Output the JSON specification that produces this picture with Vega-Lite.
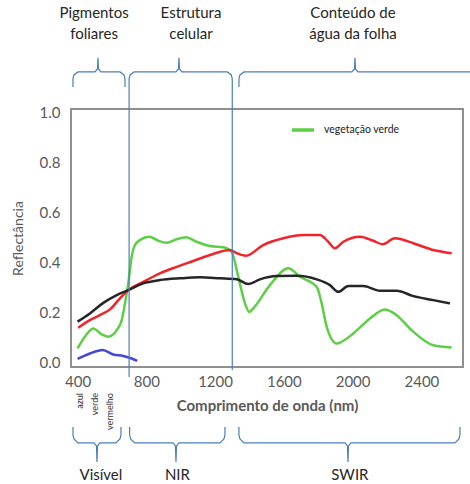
{
  "$schema": "https://vega.github.io/schema/vega-lite/v6.json",
  "width": 392,
  "height": 258,
  "autosize": {"type": "none"},
  "padding": {"left": 71, "top": 109, "right": 7, "bottom": 117},
  "background": "white",
  "config": {"view": {"stroke": "#8f8f8f", "strokeWidth": 2}, "font": "Lato"},
  "datasets": {
    "spectra": [
      {"serie": "vegetação verde", "nm": 400, "v": 0.056},
      {"serie": "vegetação verde", "nm": 450, "v": 0.11},
      {"serie": "vegetação verde", "nm": 492, "v": 0.136},
      {"serie": "vegetação verde", "nm": 540, "v": 0.112},
      {"serie": "vegetação verde", "nm": 579, "v": 0.103},
      {"serie": "vegetação verde", "nm": 628, "v": 0.129},
      {"serie": "vegetação verde", "nm": 657, "v": 0.169},
      {"serie": "vegetação verde", "nm": 676, "v": 0.236},
      {"serie": "vegetação verde", "nm": 695, "v": 0.316},
      {"serie": "vegetação verde", "nm": 715, "v": 0.422},
      {"serie": "vegetação verde", "nm": 734, "v": 0.469},
      {"serie": "vegetação verde", "nm": 763, "v": 0.489},
      {"serie": "vegetação verde", "nm": 817, "v": 0.502},
      {"serie": "vegetação verde", "nm": 870, "v": 0.486},
      {"serie": "vegetação verde", "nm": 918, "v": 0.478},
      {"serie": "vegetação verde", "nm": 977, "v": 0.492},
      {"serie": "vegetação verde", "nm": 1031, "v": 0.5},
      {"serie": "vegetação verde", "nm": 1093, "v": 0.482},
      {"serie": "vegetação verde", "nm": 1170, "v": 0.465},
      {"serie": "vegetação verde", "nm": 1248, "v": 0.46},
      {"serie": "vegetação verde", "nm": 1296, "v": 0.442},
      {"serie": "vegetação verde", "nm": 1335, "v": 0.342},
      {"serie": "vegetação verde", "nm": 1374, "v": 0.236},
      {"serie": "vegetação verde", "nm": 1399, "v": 0.202},
      {"serie": "vegetação verde", "nm": 1422, "v": 0.216},
      {"serie": "vegetação verde", "nm": 1519, "v": 0.309},
      {"serie": "vegetação verde", "nm": 1626, "v": 0.376},
      {"serie": "vegetação verde", "nm": 1694, "v": 0.342},
      {"serie": "vegetação verde", "nm": 1791, "v": 0.302},
      {"serie": "vegetação verde", "nm": 1820, "v": 0.236},
      {"serie": "vegetação verde", "nm": 1849, "v": 0.143},
      {"serie": "vegetação verde", "nm": 1907, "v": 0.076},
      {"serie": "vegetação verde", "nm": 2004, "v": 0.116},
      {"serie": "vegetação verde", "nm": 2101, "v": 0.176},
      {"serie": "vegetação verde", "nm": 2188, "v": 0.212},
      {"serie": "vegetação verde", "nm": 2256, "v": 0.189},
      {"serie": "vegetação verde", "nm": 2343, "v": 0.129},
      {"serie": "vegetação verde", "nm": 2469, "v": 0.069},
      {"serie": "vegetação verde", "nm": 2576, "v": 0.06},
      {"serie": "solo", "nm": 404, "v": 0.139},
      {"serie": "solo", "nm": 472, "v": 0.169},
      {"serie": "solo", "nm": 530, "v": 0.189},
      {"serie": "solo", "nm": 589, "v": 0.212},
      {"serie": "solo", "nm": 647, "v": 0.256},
      {"serie": "solo", "nm": 695, "v": 0.289},
      {"serie": "solo", "nm": 782, "v": 0.322},
      {"serie": "solo", "nm": 879, "v": 0.356},
      {"serie": "solo", "nm": 977, "v": 0.382},
      {"serie": "solo", "nm": 1073, "v": 0.405},
      {"serie": "solo", "nm": 1170, "v": 0.429},
      {"serie": "solo", "nm": 1287, "v": 0.449},
      {"serie": "solo", "nm": 1326, "v": 0.436},
      {"serie": "solo", "nm": 1380, "v": 0.426},
      {"serie": "solo", "nm": 1480, "v": 0.469},
      {"serie": "solo", "nm": 1597, "v": 0.496},
      {"serie": "solo", "nm": 1713, "v": 0.509},
      {"serie": "solo", "nm": 1810, "v": 0.509},
      {"serie": "solo", "nm": 1858, "v": 0.482},
      {"serie": "solo", "nm": 1897, "v": 0.456},
      {"serie": "solo", "nm": 1946, "v": 0.482},
      {"serie": "solo", "nm": 2043, "v": 0.502},
      {"serie": "solo", "nm": 2120, "v": 0.486},
      {"serie": "solo", "nm": 2175, "v": 0.472},
      {"serie": "solo", "nm": 2246, "v": 0.496},
      {"serie": "solo", "nm": 2353, "v": 0.476},
      {"serie": "solo", "nm": 2469, "v": 0.449},
      {"serie": "solo", "nm": 2576, "v": 0.436},
      {"serie": "vegetação seca", "nm": 400, "v": 0.163},
      {"serie": "vegetação seca", "nm": 472, "v": 0.196},
      {"serie": "vegetação seca", "nm": 550, "v": 0.238},
      {"serie": "vegetação seca", "nm": 628, "v": 0.269},
      {"serie": "vegetação seca", "nm": 695, "v": 0.289},
      {"serie": "vegetação seca", "nm": 782, "v": 0.316},
      {"serie": "vegetação seca", "nm": 879, "v": 0.329},
      {"serie": "vegetação seca", "nm": 996, "v": 0.336},
      {"serie": "vegetação seca", "nm": 1112, "v": 0.34},
      {"serie": "vegetação seca", "nm": 1228, "v": 0.336},
      {"serie": "vegetação seca", "nm": 1326, "v": 0.332},
      {"serie": "vegetação seca", "nm": 1393, "v": 0.313},
      {"serie": "vegetação seca", "nm": 1461, "v": 0.332},
      {"serie": "vegetação seca", "nm": 1558, "v": 0.345},
      {"serie": "vegetação seca", "nm": 1675, "v": 0.346},
      {"serie": "vegetação seca", "nm": 1791, "v": 0.332},
      {"serie": "vegetação seca", "nm": 1868, "v": 0.309},
      {"serie": "vegetação seca", "nm": 1916, "v": 0.282},
      {"serie": "vegetação seca", "nm": 1975, "v": 0.305},
      {"serie": "vegetação seca", "nm": 2062, "v": 0.305},
      {"serie": "vegetação seca", "nm": 2159, "v": 0.286},
      {"serie": "vegetação seca", "nm": 2256, "v": 0.286},
      {"serie": "vegetação seca", "nm": 2353, "v": 0.265},
      {"serie": "vegetação seca", "nm": 2469, "v": 0.249},
      {"serie": "vegetação seca", "nm": 2566, "v": 0.236},
      {"serie": "água", "nm": 400, "v": 0.014},
      {"serie": "água", "nm": 472, "v": 0.036},
      {"serie": "água", "nm": 546, "v": 0.05},
      {"serie": "água", "nm": 608, "v": 0.032},
      {"serie": "água", "nm": 666, "v": 0.026},
      {"serie": "água", "nm": 715, "v": 0.016},
      {"serie": "água", "nm": 747, "v": 0.006}
    ],
    "vlines": [
      {"nm": 700, "v": 1.1, "v2": -0.058},
      {"nm": 1300, "v": 1.1, "v2": -0.03}
    ],
    "braces": [
      {"brace": "t1", "i": 1, "nm": 373.5, "v": 1.1},
      {"brace": "t1", "i": 2, "nm": 373.5, "v": 1.132},
      {"brace": "t1", "i": 3, "nm": 379.3, "v": 1.148},
      {"brace": "t1", "i": 4, "nm": 402.6, "v": 1.16},
      {"brace": "t1", "i": 5, "nm": 501.4, "v": 1.16},
      {"brace": "t1", "i": 6, "nm": 516.0, "v": 1.172},
      {"brace": "t1", "i": 7, "nm": 518.9, "v": 1.216},
      {"brace": "t1", "i": 8, "nm": 521.8, "v": 1.172},
      {"brace": "t1", "i": 9, "nm": 536.3, "v": 1.16},
      {"brace": "t1", "i": 10, "nm": 646.8, "v": 1.16},
      {"brace": "t1", "i": 11, "nm": 670.1, "v": 1.148},
      {"brace": "t1", "i": 12, "nm": 675.9, "v": 1.132},
      {"brace": "t1", "i": 13, "nm": 675.9, "v": 1.1},
      {"brace": "t2", "i": 1, "nm": 700, "v": 1.1},
      {"brace": "t2", "i": 2, "nm": 700, "v": 1.132},
      {"brace": "t2", "i": 3, "nm": 705.8, "v": 1.148},
      {"brace": "t2", "i": 4, "nm": 729.1, "v": 1.16},
      {"brace": "t2", "i": 5, "nm": 972.5, "v": 1.16},
      {"brace": "t2", "i": 6, "nm": 987.0, "v": 1.172},
      {"brace": "t2", "i": 7, "nm": 990.0, "v": 1.216},
      {"brace": "t2", "i": 8, "nm": 992.9, "v": 1.172},
      {"brace": "t2", "i": 9, "nm": 1007.4, "v": 1.16},
      {"brace": "t2", "i": 10, "nm": 1270.9, "v": 1.16},
      {"brace": "t2", "i": 11, "nm": 1294.2, "v": 1.148},
      {"brace": "t2", "i": 12, "nm": 1300, "v": 1.132},
      {"brace": "t2", "i": 13, "nm": 1300, "v": 1.1},
      {"brace": "t3", "i": 1, "nm": 1338.9, "v": 1.1},
      {"brace": "t3", "i": 2, "nm": 1338.9, "v": 1.132},
      {"brace": "t3", "i": 3, "nm": 1344.7, "v": 1.148},
      {"brace": "t3", "i": 4, "nm": 1368.0, "v": 1.16},
      {"brace": "t3", "i": 5, "nm": 1996.1, "v": 1.16},
      {"brace": "t3", "i": 6, "nm": 2010.7, "v": 1.172},
      {"brace": "t3", "i": 7, "nm": 2013.6, "v": 1.216},
      {"brace": "t3", "i": 8, "nm": 2016.5, "v": 1.172},
      {"brace": "t3", "i": 9, "nm": 2031.0, "v": 1.16},
      {"brace": "t3", "i": 10, "nm": 2688.2, "v": 1.16},
      {"brace": "t3", "i": 11, "nm": 2711.5, "v": 1.148},
      {"brace": "t3", "i": 12, "nm": 2717.3, "v": 1.132},
      {"brace": "t3", "i": 13, "nm": 2717.3, "v": 1.1},
      {"brace": "b1", "i": 1, "nm": 373.5, "v": -0.2575},
      {"brace": "b1", "i": 2, "nm": 373.5, "v": -0.289},
      {"brace": "b1", "i": 3, "nm": 379.3, "v": -0.305},
      {"brace": "b1", "i": 4, "nm": 402.6, "v": -0.321},
      {"brace": "b1", "i": 5, "nm": 495.6, "v": -0.321},
      {"brace": "b1", "i": 6, "nm": 510.1, "v": -0.333},
      {"brace": "b1", "i": 7, "nm": 513.1, "v": -0.397},
      {"brace": "b1", "i": 8, "nm": 516.0, "v": -0.333},
      {"brace": "b1", "i": 9, "nm": 530.5, "v": -0.321},
      {"brace": "b1", "i": 10, "nm": 623.6, "v": -0.321},
      {"brace": "b1", "i": 11, "nm": 646.8, "v": -0.305},
      {"brace": "b1", "i": 12, "nm": 652.6, "v": -0.289},
      {"brace": "b1", "i": 13, "nm": 652.6, "v": -0.2575},
      {"brace": "b2", "i": 1, "nm": 703, "v": -0.2575},
      {"brace": "b2", "i": 2, "nm": 703, "v": -0.289},
      {"brace": "b2", "i": 3, "nm": 708.8, "v": -0.305},
      {"brace": "b2", "i": 4, "nm": 732.1, "v": -0.321},
      {"brace": "b2", "i": 5, "nm": 955.1, "v": -0.321},
      {"brace": "b2", "i": 6, "nm": 969.6, "v": -0.333},
      {"brace": "b2", "i": 7, "nm": 972.5, "v": -0.397},
      {"brace": "b2", "i": 8, "nm": 975.4, "v": -0.333},
      {"brace": "b2", "i": 9, "nm": 990.0, "v": -0.321},
      {"brace": "b2", "i": 10, "nm": 1228.4, "v": -0.321},
      {"brace": "b2", "i": 11, "nm": 1251.7, "v": -0.305},
      {"brace": "b2", "i": 12, "nm": 1257.5, "v": -0.289},
      {"brace": "b2", "i": 13, "nm": 1257.5, "v": -0.2575},
      {"brace": "b3", "i": 1, "nm": 1338.9, "v": -0.2575},
      {"brace": "b3", "i": 2, "nm": 1338.9, "v": -0.289},
      {"brace": "b3", "i": 3, "nm": 1344.7, "v": -0.305},
      {"brace": "b3", "i": 4, "nm": 1368.0, "v": -0.321},
      {"brace": "b3", "i": 5, "nm": 1955.4, "v": -0.321},
      {"brace": "b3", "i": 6, "nm": 1970.0, "v": -0.333},
      {"brace": "b3", "i": 7, "nm": 1972.9, "v": -0.397},
      {"brace": "b3", "i": 8, "nm": 1975.8, "v": -0.333},
      {"brace": "b3", "i": 9, "nm": 1990.3, "v": -0.321},
      {"brace": "b3", "i": 10, "nm": 2595.2, "v": -0.321},
      {"brace": "b3", "i": 11, "nm": 2618.5, "v": -0.305},
      {"brace": "b3", "i": 12, "nm": 2624.3, "v": -0.289},
      {"brace": "b3", "i": 13, "nm": 2624.3, "v": -0.2575}
    ],
    "labels": [
      {"label": "Pigmentos", "nm": 496, "v": 1.394},
      {"label": "foliares", "nm": 496, "v": 1.311},
      {"label": "Estrutura", "nm": 1060, "v": 1.394},
      {"label": "celular", "nm": 1060, "v": 1.311},
      {"label": "Conteúdo de", "nm": 2002, "v": 1.394},
      {"label": "água da folha", "nm": 2002, "v": 1.311},
      {"label": "Visível", "nm": 536, "v": -0.449},
      {"label": "NIR", "nm": 981, "v": -0.449},
      {"label": "SWIR", "nm": 1984, "v": -0.449}
    ],
    "small": [
      {"label": "azul", "nm": 414, "v": -0.122},
      {"label": "verde", "nm": 499, "v": -0.122},
      {"label": "vermelho", "nm": 588, "v": -0.122}
    ]
  },
  "layer": [
    {
      "data": {"name": "spectra"},
      "mark": {"type": "line", "interpolate": "monotone", "strokeWidth": 2.5, "clip": false},
      "encoding": {
        "x": {
          "field": "nm", "type": "quantitative",
          "scale": {"domain": [362, 2642], "nice": false, "zero": false},
          "axis": {"title": "Comprimento de onda (nm)", "values": [400, 800, 1200, 1600, 2000, 2400], "format": "d", "grid": false, "ticks": false, "tickSize": 0, "domain": false, "labelFont": "Lato", "labelFontSize": 15, "labelColor": "#595959", "labelPadding": 7, "labelFlush": false, "labelOverlap": false, "titleFont": "Lato", "titleFontSize": 15, "titleFontWeight": "bold", "titleColor": "#595959", "titlePadding": 9}
        },
        "y": {
          "field": "v", "type": "quantitative",
          "scale": {"domain": [-0.018, 1.012], "nice": false, "zero": false},
          "axis": {"title": "Reflectância", "values": [0, 0.2, 0.4, 0.6, 0.8, 1], "format": ".1f", "grid": false, "ticks": false, "tickSize": 0, "domain": false, "labelFont": "Lato", "labelFontSize": 15, "labelColor": "#595959", "labelPadding": 11, "labelFlush": false, "labelOverlap": false, "titleFont": "Lato", "titleFontSize": 14, "titleFontWeight": "normal", "titleColor": "#595959", "titlePadding": 14}
        },
        "color": {
          "field": "serie", "type": "nominal",
          "scale": {"domain": ["vegetação verde", "solo", "vegetação seca", "água"], "range": ["#5ccf45", "#f2232b", "#262626", "#4646d6"]},
          "legend": {"values": ["vegetação verde"], "title": null, "orient": "none", "legendX": 219, "legendY": 8, "symbolType": "stroke", "symbolSize": 484, "symbolStrokeWidth": 3.5, "labelFont": "Lato", "labelFontSize": 10.5, "labelColor": "#222222", "labelOffset": 8, "padding": 0}
        }
      }
    },
    {
      "data": {"name": "vlines"},
      "mark": {"type": "rule", "color": "#4a7ebb", "strokeWidth": 1.2, "clip": false},
      "encoding": {
        "x": {"field": "nm", "type": "quantitative"},
        "y": {"field": "v", "type": "quantitative"},
        "y2": {"field": "v2"}
      }
    },
    {
      "data": {"name": "braces"},
      "mark": {"type": "line", "color": "#4a7ebb", "strokeWidth": 1.2, "clip": false},
      "encoding": {
        "x": {"field": "nm", "type": "quantitative"},
        "y": {"field": "v", "type": "quantitative"},
        "detail": {"field": "brace"},
        "order": {"field": "i", "type": "quantitative"}
      }
    },
    {
      "data": {"name": "labels"},
      "mark": {"type": "text", "font": "Lato", "fontSize": 15, "color": "#262626", "align": "center", "baseline": "middle", "clip": false},
      "encoding": {
        "x": {"field": "nm", "type": "quantitative"},
        "y": {"field": "v", "type": "quantitative"},
        "text": {"field": "label"}
      }
    },
    {
      "data": {"name": "small"},
      "mark": {"type": "text", "font": "Lato", "fontSize": 9, "color": "#333333", "angle": 270, "align": "right", "baseline": "middle", "clip": false},
      "encoding": {
        "x": {"field": "nm", "type": "quantitative"},
        "y": {"field": "v", "type": "quantitative"},
        "text": {"field": "label"}
      }
    }
  ]
}
